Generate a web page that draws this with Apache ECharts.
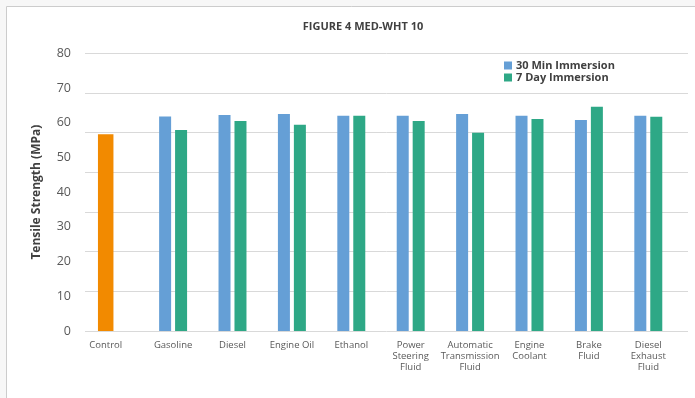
<!DOCTYPE html>
<html>
<head>
<meta charset="utf-8">
<script src="https://cdn.jsdelivr.net/npm/echarts@6/dist/echarts.min.js"></script>
<style>
html,body{margin:0;padding:0;background:#f7f7f7;}
#c{width:695px;height:398px;}
</style>
</head>
<body>
<div id="c"></div>
<script>
var categories = ['Control','Gasoline','Diesel','Engine Oil','Ethanol','Power\nSteering\nFluid','Automatic\nTransmission\nFluid','Engine\nCoolant','Brake\nFluid','Diesel\nExhaust\nFluid'];
var controlValues = [56.7, null, null, null, null, null, null, null, null, null];
var min30Values = [null, 61.8, 62.2, 62.5, 62.0, 62.0, 62.5, 62.0, 60.8, 62.0];
var day7Values = [null, 57.9, 60.5, 59.4, 62.0, 60.5, 57.1, 61.1, 64.6, 61.7];
var yTicks = [0, 10, 20, 30, 40, 50, 60, 70, 80];

var FONT = '"Open Sans", "Noto Sans", sans-serif';
var chart = echarts.init(document.getElementById('c'), null, {renderer:'canvas'});
var gTop = 53.3, gBottom = 67;
var catData = categories.map(function(c, i){
  if (i === 0) return {value: c, textStyle: {padding: [0, 16, 0, 0]}};
  return c;
});
chart.setOption({
  animation: false,
  graphic: [{
    type: 'rect', z: -10, silent: true,
    shape: {x: 6.5, y: 6.5, width: 720, height: 420},
    style: {fill: '#ffffff', stroke: '#cccccc', lineWidth: 1}
  }],
  title: {
    text: 'FIGURE 4 MED-WHT 10',
    left: 358, top: 16, textAlign: 'center',
    textStyle: {fontFamily: FONT, fontSize: 11, fontWeight: 'bold', color: '#404040'}
  },
  legend: {
    orient: 'vertical', left: 499, top: 55,
    itemWidth: 8, itemHeight: 8, itemGap: 1,
    icon: 'rect',
    data: ['30 Min Immersion', '7 Day Immersion'],
    textStyle: {fontFamily: FONT, fontSize: 11, fontWeight: 'bold', color: '#404040', padding: [0,0,0,-1]}
  },
  grid: [
    {left: 84, right: 17, top: gTop, bottom: gBottom},
    {left: 85, right: 7, top: gTop, bottom: gBottom},
    {left: 76, right: 25, top: gTop, bottom: gBottom}
  ],
  xAxis: [
    {gridIndex: 0, type: 'category', data: catData,
     axisLine: {show: false}, axisTick: {show: false},
     axisLabel: {interval: 0, margin: 9, fontFamily: FONT, fontSize: 9.5, color: '#595959', lineHeight: 11}},
    {gridIndex: 1, type: 'value', min: 0, max: 1, show: false},
    {gridIndex: 2, type: 'category', data: categories, show: false}
  ],
  yAxis: [
    {gridIndex: 0, type: 'value', min: yTicks[0], max: yTicks[yTicks.length-1], interval: 10,
     name: 'Tensile Strength (MPa)', nameLocation: 'middle', nameGap: 41,
     nameTextStyle: {fontFamily: FONT, fontSize: 12, fontWeight: 'bold', color: '#404040'},
     axisLine: {show: false}, axisTick: {show: false}, splitLine: {show: false},
     axisLabel: {margin: 13, fontFamily: FONT, fontSize: 12.5, color: '#595959'}},
    {gridIndex: 1, type: 'value', min: 0, max: 7, interval: 1,
     axisLine: {show: false}, axisTick: {show: false}, axisLabel: {show: false},
     splitLine: {show: true, lineStyle: {color: '#d9d9d9', width: 1}}},
    {gridIndex: 2, type: 'value', min: yTicks[0], max: yTicks[yTicks.length-1], show: false}
  ],
  series: [
    {name: '30 Min Immersion', type: 'bar', xAxisIndex: 0, yAxisIndex: 0,
     data: min30Values, barWidth: 12, barGap: '33%', itemStyle: {color: '#659fd6'}},
    {name: '7 Day Immersion', type: 'bar', xAxisIndex: 0, yAxisIndex: 0,
     data: day7Values, barWidth: 12, barGap: '33%', itemStyle: {color: '#2ea886'}},
    {name: 'Control', type: 'bar', xAxisIndex: 2, yAxisIndex: 2,
     data: controlValues, barWidth: 15.5, itemStyle: {color: '#f28a00'}}
  ]
});
</script>
</body>
</html>
